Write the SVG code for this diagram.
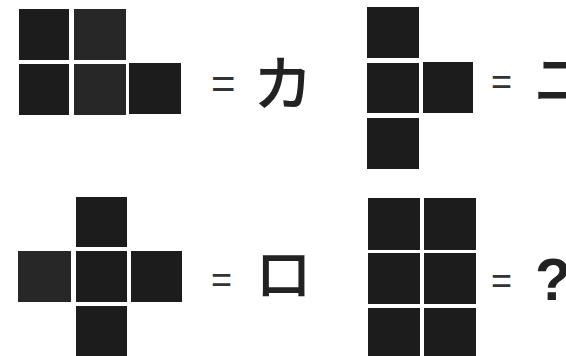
<svg xmlns="http://www.w3.org/2000/svg" width="566" height="356" viewBox="0 0 566 356">
<style>
.sq{fill:#1c1c1c}
.sq2{fill:#272727}
.eq{font-family:"Liberation Sans",Arial,sans-serif;font-size:36px;fill:#333}
.ch{font-family:"Noto Sans CJK JP","Noto Sans CJK SC",sans-serif;font-size:60px;font-weight:500;fill:#222}
.q{font-family:"Liberation Sans",Arial,sans-serif;font-size:59px;font-weight:bold;fill:#222}
</style>
<rect width="566" height="356" fill="#fff"/>
<g id="figure-ka">
<rect class="sq" x="19" y="9" width="50" height="51"/>
<rect class="sq2" x="74" y="9" width="52" height="51"/>
<rect class="sq" x="19" y="64" width="50" height="51"/>
<rect class="sq2" x="74" y="64" width="52" height="51"/>
<rect class="sq" x="129" y="63" width="52" height="51"/>
</g>
<g id="eq-ka"><text class="eq" x="211" y="98" style="font-size:42px">=</text><text class="ch" x="253" y="106">カ</text></g>
<g id="figure-ni">
<rect class="sq" x="367" y="7" width="52" height="51"/>
<rect class="sq" x="367" y="63" width="52" height="50"/>
<rect class="sq" x="367" y="118" width="52" height="51"/>
<rect class="sq" x="423" y="62" width="50" height="51"/>
</g>
<g id="eq-ni"><text class="eq" x="491" y="94">=</text><text class="ch" x="533" y="102">ニ</text></g>
<g id="figure-ro">
<rect class="sq" x="76" y="197" width="51" height="50"/>
<rect class="sq2" x="18" y="251" width="53" height="51"/>
<rect class="sq" x="76" y="251" width="51" height="51"/>
<rect class="sq" x="131" y="251" width="51" height="51"/>
<rect class="sq" x="76" y="306" width="51" height="50"/>
</g>
<g id="eq-ro"><text class="eq" x="211" y="292">=</text><text class="ch" x="255" y="295" style="font-size:57px">ロ</text></g>
<g id="figure-q">
<rect class="sq" x="368" y="198" width="52" height="52"/>
<rect class="sq" x="424" y="198" width="52" height="52"/>
<rect class="sq" x="368" y="253" width="52" height="51"/>
<rect class="sq" x="424" y="253" width="52" height="51"/>
<rect class="sq" x="368" y="308" width="52" height="48"/>
<rect class="sq" x="424" y="308" width="52" height="48"/>
</g>
<g id="eq-q"><text class="eq" x="491" y="293">=</text><text class="q" x="535" y="300">?</text></g>
<g id="connectors"/>
</svg>
